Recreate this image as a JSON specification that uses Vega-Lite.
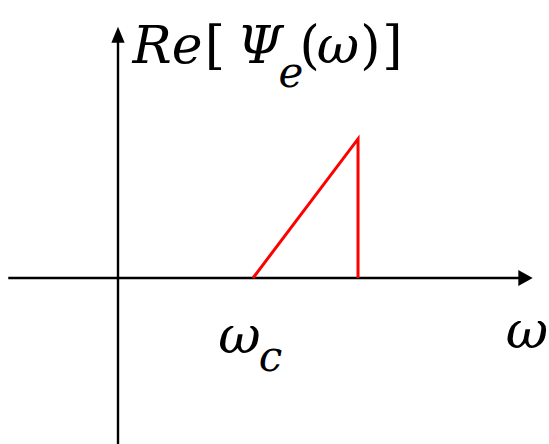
{
  "$schema": "https://vega.github.io/schema/vega-lite/v6.json",
  "width": 549,
  "height": 444,
  "padding": 0,
  "autosize": {"type": "none"},
  "background": "white",
  "config": {"view": {"stroke": null}},
  "datasets": {
    "axisShafts": [
      {"x": -0.813, "y": 0, "x2": 2.98, "y2": 0},
      {"x": 0, "y": -1.23, "x2": 0, "y2": 1.75}
    ],
    "upHead": [{"x": 0, "y": 1.802}],
    "rightHead": [{"x": 3.0185, "y": 0}],
    "spectrum": [
      {"omega": 1.0, "re": 0, "order": 1},
      {"omega": 1.778, "re": 1.03, "order": 2},
      {"omega": 1.778, "re": 0, "order": 3}
    ],
    "italicText": [
      {"x": 0.3667, "y": 1.5926, "text": "Re"},
      {"x": 1.05, "y": 1.5926, "text": "Ψ"},
      {"x": 1.63, "y": 1.5926, "text": "ω"},
      {"x": 0.9, "y": -0.5556, "text": "ω"},
      {"x": 3.0296, "y": -0.5185, "text": "ω"}
    ],
    "subscripts": [
      {"x": 1.28, "y": 1.4148, "text": "e"},
      {"x": 1.13, "y": -0.6889, "text": "c"}
    ],
    "uprightText": [
      {"x": 0.7185, "y": 1.5926, "text": "["},
      {"x": 1.42, "y": 1.5926, "text": "("},
      {"x": 1.87, "y": 1.5926, "text": ")"},
      {"x": 2.0333, "y": 1.5926, "text": "]"}
    ]
  },
  "resolve": {"scale": {"x": "shared", "y": "shared"}},
  "layer": [
    {
      "data": {"name": "axisShafts"},
      "mark": {"type": "rule", "color": "black", "strokeWidth": 2.4},
      "encoding": {
        "x": {"field": "x", "type": "quantitative", "scale": {"domain": [-0.8741, 3.1926], "nice": false, "zero": false}, "axis": null},
        "y": {"field": "y", "type": "quantitative", "scale": {"domain": [-1.2296, 2.0593], "nice": false, "zero": false}, "axis": null},
        "x2": {"field": "x2"},
        "y2": {"field": "y2"}
      }
    },
    {
      "data": {"name": "upHead"},
      "mark": {"type": "point", "shape": "M0,-1L0.83,1L-0.83,1Z", "size": 256, "filled": true, "color": "black", "opacity": 1},
      "encoding": {
        "x": {"field": "x", "type": "quantitative"},
        "y": {"field": "y", "type": "quantitative"}
      }
    },
    {
      "data": {"name": "rightHead"},
      "mark": {"type": "point", "shape": "M0.9,0L-0.9,-1L-0.9,1Z", "size": 256, "filled": true, "color": "black", "opacity": 1},
      "encoding": {
        "x": {"field": "x", "type": "quantitative"},
        "y": {"field": "y", "type": "quantitative"}
      }
    },
    {
      "data": {"name": "spectrum"},
      "mark": {"type": "line", "color": "#ff0000", "strokeWidth": 3, "strokeJoin": "miter"},
      "encoding": {
        "x": {"field": "omega", "type": "quantitative"},
        "y": {"field": "re", "type": "quantitative"},
        "order": {"field": "order"}
      }
    },
    {
      "data": {"name": "italicText"},
      "mark": {"type": "text", "font": "DejaVu Serif", "fontStyle": "italic", "fontSize": 52, "align": "center", "baseline": "alphabetic", "color": "black"},
      "encoding": {
        "x": {"field": "x", "type": "quantitative"},
        "y": {"field": "y", "type": "quantitative"},
        "text": {"field": "text"}
      }
    },
    {
      "data": {"name": "subscripts"},
      "mark": {"type": "text", "font": "DejaVu Serif", "fontStyle": "italic", "fontSize": 42, "align": "center", "baseline": "alphabetic", "color": "black"},
      "encoding": {
        "x": {"field": "x", "type": "quantitative"},
        "y": {"field": "y", "type": "quantitative"},
        "text": {"field": "text"}
      }
    },
    {
      "data": {"name": "uprightText"},
      "mark": {"type": "text", "font": "DejaVu Serif", "fontSize": 52, "align": "center", "baseline": "alphabetic", "color": "black"},
      "encoding": {
        "x": {"field": "x", "type": "quantitative"},
        "y": {"field": "y", "type": "quantitative"},
        "text": {"field": "text"}
      }
    }
  ]
}
